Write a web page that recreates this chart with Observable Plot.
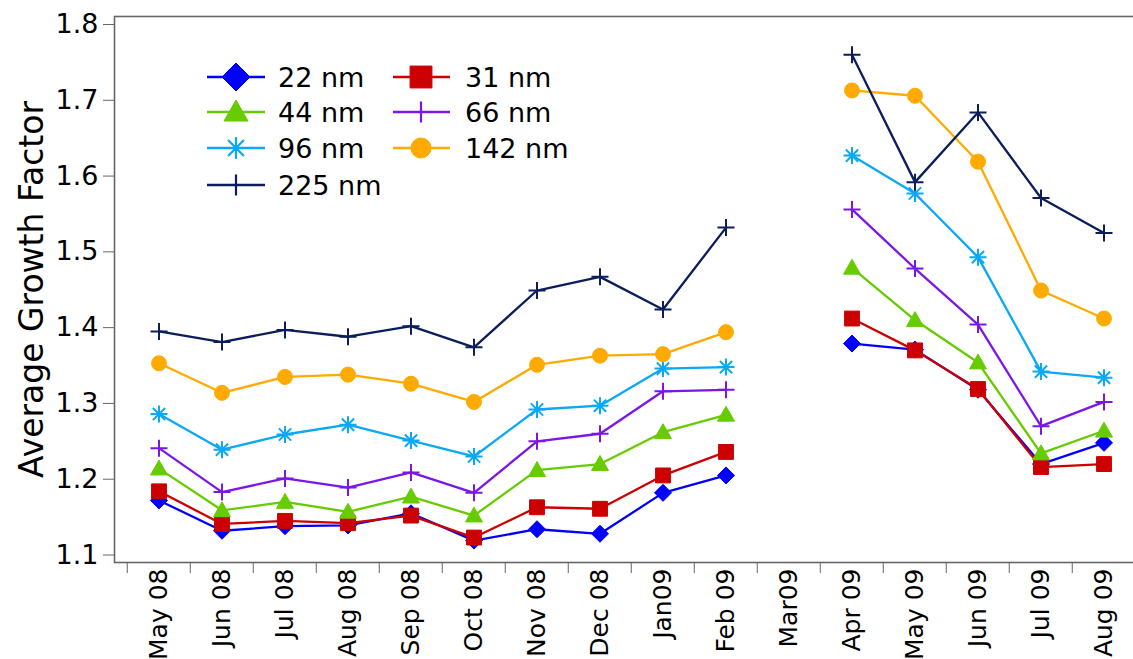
<!DOCTYPE html>
<html>
<head>
<meta charset="utf-8">
<script src="https://cdn.jsdelivr.net/npm/d3@7"></script>
<script src="https://cdn.jsdelivr.net/npm/@observablehq/plot@0.6"></script>
<style>
  html, body { margin: 0; padding: 0; background: #fff; }
  #wrap { position: relative; width: 1133px; height: 659px; overflow: hidden; }
  #legend { position: absolute; left: 0; top: 0; }
</style>
</head>
<body>
<div id="wrap"></div>
<script>
// ---------- data ----------
const months = ["May 08","Jun 08","Jul 08","Aug 08","Sep 08","Oct 08","Nov 08","Dec 08","Jan09","Feb 09","Mar09","Apr 09","May 09","Jun 09","Jul 09","Aug 09"];
const seriesNames = ["22 nm","31 nm","44 nm","66 nm","96 nm","142 nm","225 nm"];
const s22  = [1.172,1.132,1.138,1.139,1.155,1.119,1.134,1.128,1.182,1.205,null,1.379,1.371,1.318,1.220,1.248];
const s31  = [1.184,1.141,1.145,1.142,1.152,1.123,1.163,1.161,1.205,1.236,null,1.412,1.370,1.319,1.216,1.220];
const s44  = [1.214,1.159,1.170,1.157,1.177,1.152,1.212,1.220,1.262,1.285,null,1.479,1.410,1.354,1.234,1.264];
const s66  = [1.241,1.183,1.201,1.189,1.209,1.182,1.250,1.260,1.316,1.318,null,1.556,1.478,1.404,1.270,1.302];
const s96  = [1.286,1.239,1.259,1.272,1.251,1.230,1.292,1.297,1.346,1.348,null,1.627,1.577,1.493,1.342,1.334];
const s142 = [1.353,1.314,1.335,1.338,1.326,1.302,1.351,1.363,1.365,1.394,null,1.713,1.706,1.619,1.449,1.412];
const s225 = [1.395,1.381,1.397,1.388,1.402,1.374,1.449,1.467,1.424,1.532,null,1.760,1.592,1.684,1.571,1.525];
const yTicks = [1.1,1.2,1.3,1.4,1.5,1.6,1.7,1.8];
const colors = ["#0000ff","#cc0000","#66cc00","#7b16e8","#0aa8f5","#ffaa00","#0b1e5b"];
const shapes = ["diamond","square","triangle","plus","asterisk","circle","plus"];
const valueArrays = [s22,s31,s44,s66,s96,s142,s225];

// ---------- symbol drawing ----------
function drawShape(ctx, shape, h) {
  switch (shape) {
    case "diamond":
      ctx.moveTo(0,-h); ctx.lineTo(h,0); ctx.lineTo(0,h); ctx.lineTo(-h,0); ctx.closePath(); break;
    case "square": {
      const s = h*0.875; ctx.moveTo(-s,-s); ctx.lineTo(s,-s); ctx.lineTo(s,s); ctx.lineTo(-s,s); ctx.closePath(); break;
    }
    case "triangle":
      ctx.moveTo(0,-h); ctx.lineTo(h,h*0.75); ctx.lineTo(-h,h*0.75); ctx.closePath(); break;
    case "circle": {
      const r = h*0.875; ctx.moveTo(r,0); ctx.arc(0,0,r,0,2*Math.PI); ctx.closePath(); break;
    }
    case "plus":
      ctx.moveTo(-h,0); ctx.lineTo(h,0); ctx.moveTo(0,-h); ctx.lineTo(0,h); break;
    case "asterisk": {
      const d = h*0.72;
      ctx.moveTo(-h,0); ctx.lineTo(h,0); ctx.moveTo(0,-h); ctx.lineTo(0,h);
      ctx.moveTo(-d,-d); ctx.lineTo(d,d); ctx.moveTo(-d,d); ctx.lineTo(d,-d); break;
    }
  }
}
const isFilled = s => s === "diamond" || s === "square" || s === "triangle" || s === "circle";
function symbolFor(shape) {
  return { draw(ctx, size) { drawShape(ctx, shape, Math.sqrt(size / Math.PI)); } };
}

// ---------- table ----------
const rows = [];
seriesNames.forEach((name, i) => {
  months.forEach((m, j) => rows.push({series: name, month: m, value: valueArrays[i][j]}));
});

const xRange = [122.5, 1138.5];
const step = (xRange[1] - xRange[0]) / months.length;

const marks = [
  Plot.frame({stroke: "#666", strokeWidth: 1.6}),
  Plot.axisY({ticks: yTicks, tickFormat: d3.format(".1f"), tickSize: 11, tickPadding: 5, fontSize: 27, stroke: "#666", fill: "#000", label: null}),
  Plot.axisX({tickSize: 11, text: null, dx: -step/2, stroke: "#666", label: null}),
  Plot.axisX({tickSize: 0, tickPadding: 6, tickRotate: -90, fontSize: 25, fill: "#000", label: null}),
  Plot.text(["Average Growth Factor"], {frameAnchor: "left", textAnchor: "middle", rotate: -90, dx: -82, fontSize: 33, fill: "#000"})
];
seriesNames.forEach((name, i) => {
  const data = rows.filter(r => r.series === name);
  marks.push(Plot.lineY(data, {x: "month", y: "value", stroke: colors[i], strokeWidth: 2.3}));
  const filled = isFilled(shapes[i]);
  marks.push(Plot.dot(data.filter(d => d.value != null), {
    x: "month", y: "value", r: 8.5, symbol: symbolFor(shapes[i]),
    fill: filled ? colors[i] : "none", stroke: colors[i], strokeWidth: filled ? 1 : 2
  }));
});

const chart = Plot.plot({
  width: 1133,
  height: 659,
  marginLeft: 114,
  marginRight: -6,
  marginTop: 16,
  marginBottom: 97,
  style: {fontFamily: "DejaVu Sans", fontSize: "25px", background: "#fff", color: "#000", overflow: "hidden"},
  x: {type: "band", domain: months, range: xRange, padding: 0, label: null},
  y: {domain: [1.1, 1.8], range: [554.5, 24], label: null},
  marks
});
document.getElementById("wrap").appendChild(chart);

// ---------- legend ----------
const legendPos = [
  {col: 0, row: 0}, {col: 1, row: 0},
  {col: 0, row: 1}, {col: 1, row: 1},
  {col: 0, row: 2}, {col: 1, row: 2},
  {col: 0, row: 3}
];
const colX = [{x0: 207, x1: 265, m: 236, t: 278}, {x0: 393, x1: 450, m: 421, t: 465}];
const rowY = [77, 112, 148, 185];
const legendScale = {diamond: 14, square: 12.5, triangle: 12, circle: 11.5, plus: 10.5, asterisk: 11};
const lg = d3.create("svg").attr("id", "legend").attr("width", 1133).attr("height", 659)
  .style("font-family", "DejaVu Sans").style("font-size", "27px");
seriesNames.forEach((name, i) => {
  const c = colX[legendPos[i].col], y = rowY[legendPos[i].row];
  const g = lg.append("g");
  g.append("line").attr("x1", c.x0).attr("x2", c.x1).attr("y1", y).attr("y2", y)
    .attr("stroke", colors[i]).attr("stroke-width", 2.4);
  const p = d3.path();
  drawShape(p, shapes[i], legendScale[shapes[i]]);
  const filled = isFilled(shapes[i]);
  g.append("path").attr("d", p.toString()).attr("transform", `translate(${c.m},${y})`)
    .attr("fill", filled ? colors[i] : "none").attr("stroke", colors[i]).attr("stroke-width", filled ? 1 : 2.2);
  g.append("text").attr("x", c.t).attr("y", y).attr("dy", "0.36em").attr("fill", "#000").text(name);
});
document.getElementById("wrap").appendChild(lg.node());
</script>
</body>
</html>
